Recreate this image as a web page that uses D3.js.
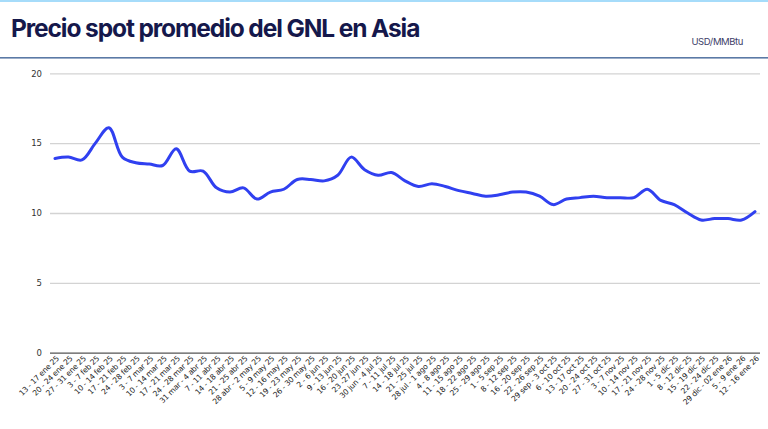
<!DOCTYPE html>
<html><head><meta charset="utf-8">
<script src="https://cdn.jsdelivr.net/npm/d3@7/dist/d3.min.js"></script>
<style>
html,body{margin:0;padding:0;background:#fff;}
svg{display:block;}
</style></head>
<body>
<svg id="c" width="768" height="429"></svg>
<script>
const categories = [
"13 - 17 ene 25","20 - 24 ene 25","27 - 31 ene 25","3 - 7 feb 25","10 - 14 feb 25","17 - 21 feb 25","24 - 28 feb 25",
"3 - 7 mar 25","10 - 14 mar 25","17 - 21 mar 25","24 - 28 mar 25","31 mar - 4 abr 25","7 - 11 abr 25","14 - 18 abr 25",
"21 - 25 abr 25","28 abr - 2 may 25","5 - 9 may 25","12 - 16 may 25","19 - 23 may 25","26 - 30 may 25","2 - 6 jun 25",
"9 - 13 jun 25","16 - 20 jun 25","23 -27 jun 25","30 jun - 4 jul 25","7 - 11 jul 25","14 - 18 jul 25","21 - 25 jul 25",
"28 jul - 1 ago 25","4 - 8 ago 25","11 - 15 ago 25","18 - 22 ago 25","25 - 29 ago 25","1 - 5 sep 25","8 - 12 sep 25",
"16 - 20 sep 25","22 - 26 sep 25","29 sep - 3 oct 25","6 - 10 oct 25","13 - 17 oct 25","20 - 24 oct 25","27 - 31 oct 25",
"3 - 7 nov 25","10 - 14 nov 25","17 - 21 nov 25","24 - 28 nov 25","1 - 5 dic 25","8 - 12 dic 25","15 - 19 dic 25",
"22 - 24 dic 25","29 dic - 02 ene 26","5 - 9 ene 26","12 - 16 ene 26"
];
const prices = [
13.9,14.0,13.8,15.0,16.1,14.0,13.6,13.5,13.4,14.6,13.0,13.0,11.8,11.5,11.8,11.0,11.5,11.7,
12.4,12.4,12.3,12.7,14.0,13.1,12.7,12.9,12.3,11.9,12.1,11.9,11.6,11.4,11.2,11.3,11.5,11.5,
11.2,10.6,11.0,11.1,11.2,11.1,11.1,11.1,11.7,10.9,10.6,10.0,9.5,9.6,9.6,9.5,10.1
];
const yTicks = [0,5,10,15,20];
const title = "Precio spot promedio del GNL en Asia";
const unit = "USD/MMBtu";

const svg = d3.select("#c");
const W = 768, H = 429;

// header
svg.append("rect").attr("x",0).attr("y",0).attr("width",W).attr("height",2).attr("fill","#a6dcfa");
svg.append("text").attr("x",11).attr("y",37).text(title)
  .attr("font-family","Inter, 'Noto Sans', sans-serif").attr("font-weight",700)
  .attr("font-size",24.5).attr("letter-spacing","-1.1").attr("fill","#15184b");
svg.append("text").attr("x",743).attr("y",45).attr("text-anchor","end").text(unit)
  .attr("font-family","Inter, 'Noto Sans', sans-serif").attr("font-size",9.5)
  .attr("letter-spacing","-0.4").attr("fill","#3b3d68");
svg.append("rect").attr("x",0).attr("y",57).attr("width",W).attr("height",1.6).attr("fill","#5b7aa6");

const x = d3.scalePoint().domain(categories).range([55,755]);
const y = d3.scaleLinear().domain([0,20]).range([352.7,73.3]);

// grid
const yAxis = d3.axisLeft(y).tickValues(yTicks).tickSize(-(760-50)).tickPadding(8).tickFormat(d3.format("d"));
const gy = svg.append("g").attr("transform","translate(50,0)").call(yAxis);
gy.select(".domain").remove();
gy.selectAll(".tick line").attr("stroke","#d3d3d3").attr("stroke-width",1.3);
gy.selectAll(".tick text").attr("font-family","'DejaVu Sans', sans-serif").attr("font-size",8.5).attr("fill","#333");
gy.selectAll(".tick").filter(d=>d===0).select("line").attr("stroke","#555").attr("stroke-width",1.3);

// x axis labels
const xAxis = d3.axisBottom(x).tickSize(0).tickPadding(0);
const gx = svg.append("g").attr("transform","translate(0,353)").call(xAxis);
gx.select(".domain").remove();
gx.selectAll(".tick text")
  .attr("font-family","'DejaVu Sans', sans-serif").attr("font-size",7.6).attr("fill","#222")
  .attr("letter-spacing","-0.2")
  .attr("text-anchor","end").attr("dy",null).attr("y",0)
  .attr("transform","translate(4,6) rotate(-45)");

// line
const line = d3.line().x((d,i)=>x(categories[i])).y(d=>y(d)).curve(d3.curveCatmullRom.alpha(0.5));
svg.append("path").datum(prices).attr("d",line).attr("fill","none")
  .attr("stroke","#3040f0").attr("stroke-width",3).attr("stroke-linejoin","round").attr("stroke-linecap","round");
</script>
</body></html>
